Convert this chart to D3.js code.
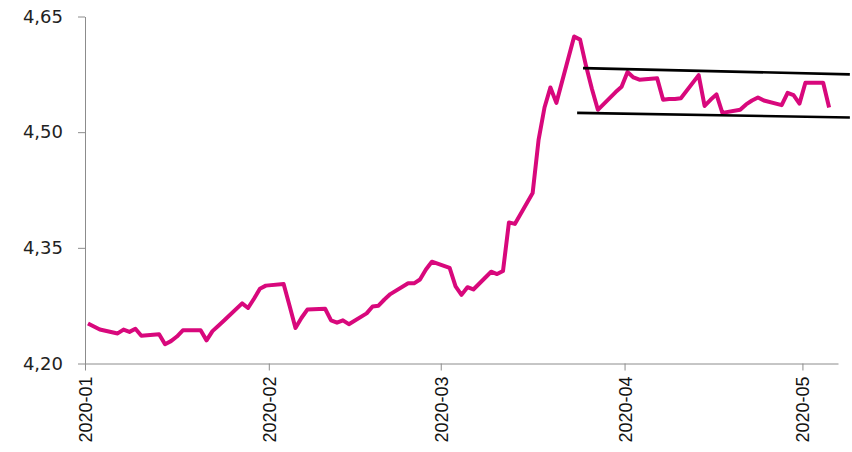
<!DOCTYPE html>
<html>
<head>
<meta charset="utf-8">
<script src="https://cdn.jsdelivr.net/npm/d3@7"></script>
<style>
  body { margin: 0; background: #ffffff; }
  svg { display: block; }
</style>
</head>
<body>
<svg id="chart" width="852" height="452"></svg>
<script>
// Daily EUR/PLN-style fixing, weekdays from 2020-01-01 to 2020-05-05
const dates = [
  "2020-01-01","2020-01-02","2020-01-03","2020-01-06","2020-01-07","2020-01-08","2020-01-09","2020-01-10",
  "2020-01-13","2020-01-14","2020-01-15","2020-01-16","2020-01-17","2020-01-20","2020-01-21","2020-01-22",
  "2020-01-23","2020-01-24","2020-01-27","2020-01-28","2020-01-29","2020-01-30","2020-01-31",
  "2020-02-03","2020-02-04","2020-02-05","2020-02-06","2020-02-07","2020-02-10","2020-02-11","2020-02-12",
  "2020-02-13","2020-02-14","2020-02-17","2020-02-18","2020-02-19","2020-02-20","2020-02-21","2020-02-24",
  "2020-02-25","2020-02-26","2020-02-27","2020-02-28",
  "2020-03-02","2020-03-03","2020-03-04","2020-03-05","2020-03-06","2020-03-09","2020-03-10","2020-03-11",
  "2020-03-12","2020-03-13","2020-03-16","2020-03-17","2020-03-18","2020-03-19","2020-03-20","2020-03-23",
  "2020-03-24","2020-03-25","2020-03-26","2020-03-27","2020-03-30","2020-03-31",
  "2020-04-01","2020-04-02","2020-04-03","2020-04-06","2020-04-07","2020-04-08","2020-04-09","2020-04-10",
  "2020-04-13","2020-04-14","2020-04-15","2020-04-16","2020-04-17","2020-04-20","2020-04-21","2020-04-22",
  "2020-04-23","2020-04-24","2020-04-27","2020-04-28","2020-04-29","2020-04-30",
  "2020-05-01","2020-05-04","2020-05-05"
];
const rates = [
  4.252,4.248,4.244,4.239,4.244,4.241,4.245,4.236,
  4.238,4.225,4.229,4.235,4.243,4.243,4.230,4.242,
  4.249,4.256,4.278,4.272,4.284,4.297,4.301,
  4.303,4.275,4.246,4.259,4.270,4.271,4.256,4.253,
  4.256,4.251,4.265,4.274,4.275,4.283,4.290,4.304,
  4.304,4.309,4.322,4.332,
  4.324,4.300,4.289,4.299,4.296,4.319,4.316,4.320,
  4.383,4.381,4.421,4.490,4.532,4.558,4.538,4.624,
  4.620,4.586,4.556,4.529,4.552,4.559,
  4.578,4.571,4.568,4.570,4.542,4.543,4.543,4.544,
  4.574,4.534,4.542,4.549,4.525,4.529,4.536,4.541,
  4.545,4.541,4.535,4.551,4.548,4.537,
  4.564,4.564,4.532
];

// Consolidation channel drawn over the April range
const channelTopDates = ["2020-03-25", "2020-05-09"];
const channelTopValues = [4.583, 4.575];
const channelBottomDates = ["2020-03-24", "2020-05-09"];
const channelBottomValues = [4.525, 4.519];

const yTicks = [4.20, 4.35, 4.50, 4.65];
const xDomain = ["2020-01-01", "2020-05-07"];

const parse = d3.utcParse("%Y-%m-%d");
// each daily value sits in the middle of its day slot
const mid = s => d3.utcHour.offset(parse(s), 12);

const margin = { left: 85, top: 16.5, right: 14, bottom: 88.5 };
const W = 852, H = 452;

const svg = d3.select("#chart");

const x = d3.scaleUtc()
  .domain(xDomain.map(parse))
  .range([margin.left, W - margin.right]);

const y = d3.scaleLinear()
  .domain([yTicks[0], yTicks[yTicks.length - 1]])
  .range([H - margin.bottom, margin.top]);

const axisColor = "#8c8c8c";

// y axis
const yAxis = svg.append("g")
  .attr("transform", `translate(${margin.left},0)`)
  .call(d3.axisLeft(y)
    .tickValues(yTicks)
    .tickSize(7)
    .tickSizeOuter(0)
    .tickPadding(15)
    .tickFormat(d => d3.format(".2f")(d).replace(".", ",")));
yAxis.selectAll("path, line").attr("stroke", axisColor);
yAxis.selectAll("text")
  .attr("fill", "#222")
  .style("font-family", "'DejaVu Sans', Verdana, sans-serif")
  .style("font-size", "18px");

// x axis
const xAxis = svg.append("g")
  .attr("transform", `translate(0,${H - margin.bottom})`)
  .call(d3.axisBottom(x)
    .ticks(d3.utcMonth.every(1))
    .tickSize(7)
    .tickSizeOuter(0)
    .tickFormat(d3.utcFormat("%Y-%m")));
xAxis.selectAll("path, line").attr("stroke", axisColor);
xAxis.selectAll("text")
  .attr("fill", "#111")
  .style("font-family", "'Liberation Sans', Arial, sans-serif")
  .style("font-size", "18px")
  .attr("text-anchor", "end")
  .attr("transform", "rotate(-90)")
  .attr("x", -13)
  .attr("y", 0)
  .attr("dy", "0.36em");

// rate series
const series = dates.map((d, i) => ({ date: mid(d), value: rates[i] }));
const line = d3.line()
  .x(d => x(d.date))
  .y(d => y(d.value));

svg.append("path")
  .datum(series)
  .attr("fill", "none")
  .attr("stroke", "#d8087c")
  .attr("stroke-width", 4)
  .attr("stroke-linejoin", "round")
  .attr("d", line);

// channel lines
const channels = [
  channelTopDates.map((d, i) => ({ date: parse(d), value: channelTopValues[i] })),
  channelBottomDates.map((d, i) => ({ date: parse(d), value: channelBottomValues[i] }))
];
svg.selectAll(".channel")
  .data(channels)
  .join("path")
  .attr("class", "channel")
  .attr("fill", "none")
  .attr("stroke", "#000")
  .attr("stroke-width", 2.6)
  .attr("d", line);
</script>
</body>
</html>
